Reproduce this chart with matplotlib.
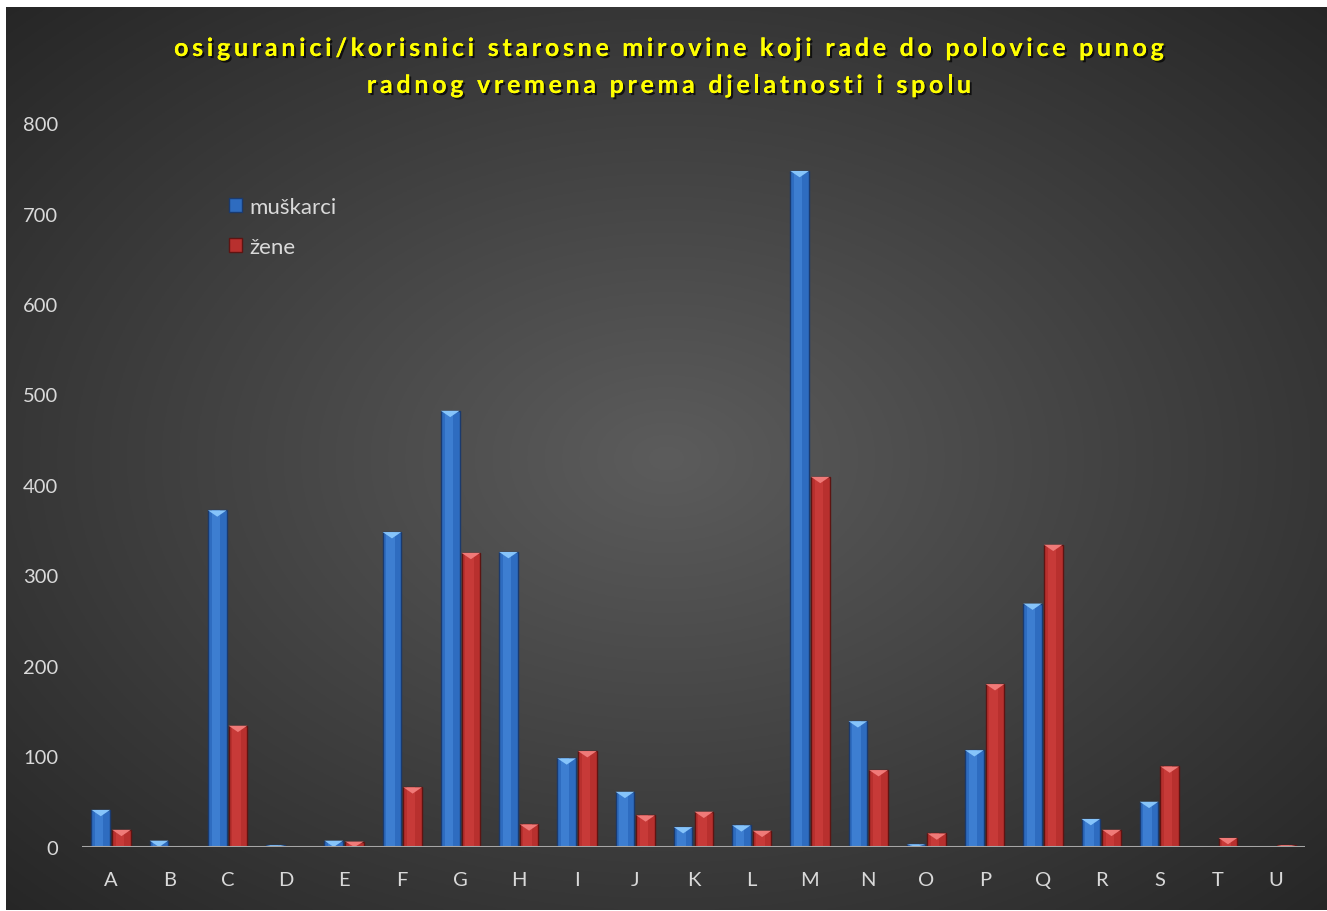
import numpy as np
import matplotlib
matplotlib.use("Agg")
import matplotlib.pyplot as plt
from matplotlib.patches import Polygon, Patch
from matplotlib.font_manager import FontProperties
import matplotlib.patheffects as pe

categories = ["A", "B", "C", "D", "E", "F", "G", "H", "I", "J", "K",
              "L", "M", "N", "O", "P", "Q", "R", "S", "T", "U"]
muskarci = [41, 7, 372, 2, 7, 348, 482, 326, 98, 61, 22, 24, 747, 139, 3, 107, 269, 31, 50, 0, 0]
zene = [19, 0, 134, 0, 6, 66, 325, 25, 106, 35, 39, 18, 409, 85, 15, 180, 334, 19, 89, 10, 2]
series_names = ["muškarci", "žene"]
title_lines = ["osiguranici/korisnici starosne mirovine koji rade do polovice punog",
               "radnog vremena prema djelatnosti i spolu"]
yticks = [0, 100, 200, 300, 400, 500, 600, 700, 800]

plt.rcParams['font.family'] = ['Lato', 'DejaVu Sans']

W, H = 1327, 912
fig = plt.figure(figsize=(W / 100, H / 100), dpi=100)
fig.patch.set_facecolor("white")

# background panel with radial gradient
bg = fig.add_axes([6 / W, 1 / H, (W - 6) / W, (H - 9) / H])
bg.set_axis_off()
yy, xx = np.mgrid[0:1:400j, 0:1:600j]
d = np.sqrt(((xx - 0.5) / 0.75) ** 2 + ((yy - 0.5) / 0.75) ** 2)
d = np.clip(d / 0.95, 0, 1)
c_in = np.array([0x5c, 0x5c, 0x5c]) / 255
c_out = np.array([0x26, 0x26, 0x26]) / 255
img = c_in[None, None, :] * (1 - d[..., None]) + c_out[None, None, :] * d[..., None]
bg.imshow(img, aspect="auto", extent=[0, 1, 0, 1], origin="lower")
bg.set_xlim(0, 1)
bg.set_ylim(0, 1)

ax = fig.add_axes([82 / W, (H - 848) / H, (1305 - 82) / W, (848 - 124) / H])
ax.set_facecolor("none")
for s in ax.spines.values():
    s.set_visible(False)

x = np.arange(len(categories))
bw = 0.32
gap = 0.035
styles = [
    dict(main="#2e6cc0", light="#4a8ee0", edge="#1a3a6e", cap="#86c4fa"),
    dict(main="#b8302e", light="#d44442", edge="#5e1412", cap="#f07a78"),
]
cap_h = 7.0
for i, (vals, st) in enumerate(zip([muskarci, zene], styles)):
    offs = (-1 if i == 0 else 1) * (bw / 2 + gap / 2)
    xs = x + offs
    ax.bar(xs, vals, width=bw, color=st["main"], edgecolor=st["edge"], linewidth=1.0, zorder=3)
    ax.bar(xs - bw * 0.08, vals, width=bw * 0.45, color=st["light"], linewidth=0, alpha=0.55, zorder=3.5)
    for xc, v in zip(xs, vals):
        if v <= 0:
            continue
        h = min(cap_h, v)
        x0, x1 = xc - bw / 2, xc + bw / 2
        ax.add_patch(Polygon([(x0, v), (x1, v), (xc, v - h)], closed=True,
                             facecolor=st["cap"], edgecolor="none", zorder=4))

ax.axhline(0, color="#a6a6a6", linewidth=2.2, zorder=5)
ax.set_xlim(-0.5, len(categories) - 0.5)
ax.set_ylim(0, 800)
ax.set_yticks(yticks)
ax.set_yticklabels([str(t) for t in yticks])
ax.set_xticks(x)
ax.set_xticklabels(categories)
ax.tick_params(axis="both", length=0, labelsize=14.5, colors="#d9d9d9")
ax.tick_params(axis="y", pad=17)
ax.tick_params(axis="x", pad=17)

# title with letter spacing
renderer = fig.canvas.get_renderer()
fp = FontProperties(family=['Lato', 'DejaVu Sans'], weight="bold", size=18)
spacing = 3.7  # px between letters
baselines = [57, 94]
cx = 669
shadow = [pe.withSimplePatchShadow(offset=(1.5, -1.5), shadow_rgbFace="black", alpha=0.7), pe.Normal()]
for line, by in zip(title_lines, baselines):
    prefix = [renderer.get_text_width_height_descent(line[:k].replace(" ", "\u00a0"), fp, ismath=False)[0]
              if k > 0 else 0.0 for k in range(len(line) + 1)]
    total = prefix[-1] + spacing * (len(line) - 1)
    x0 = cx - total / 2
    for k, ch in enumerate(line):
        if ch == " ":
            continue
        px = x0 + prefix[k] + spacing * k
        fig.text(px / W, (H - by) / H, ch, ha="left", va="baseline", color="#ffff00",
                 fontproperties=fp, path_effects=shadow)

handles = [Patch(facecolor=styles[0]["main"], edgecolor=styles[0]["edge"]),
           Patch(facecolor=styles[1]["main"], edgecolor=styles[1]["edge"])]
leg = fig.legend(handles, series_names, loc="upper left",
                 bbox_to_anchor=(209 / W, (H - 178) / H), frameon=False,
                 fontsize=16, labelcolor="#d9d9d9", handlelength=0.6, handleheight=0.6,
                 handletextpad=0.3, labelspacing=0.9)

fig.savefig("out.png", dpi=100, facecolor=fig.get_facecolor())
